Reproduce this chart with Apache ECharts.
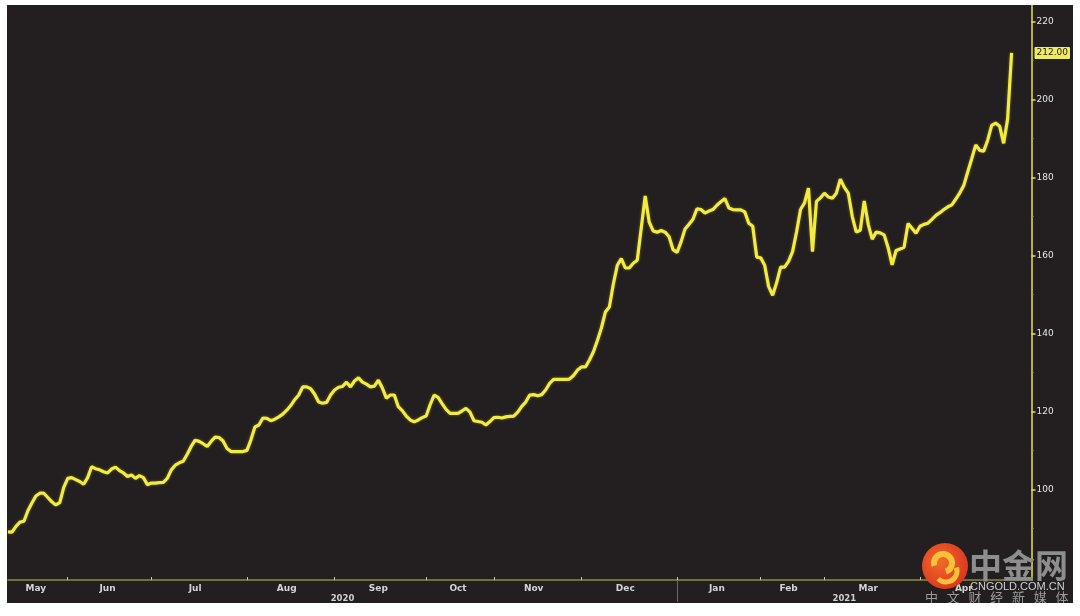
<!DOCTYPE html>
<html>
<head>
<meta charset="utf-8">
<script src="https://cdn.jsdelivr.net/npm/echarts@6/dist/echarts.min.js"></script>
<style>
  html, body { margin: 0; padding: 0; background: #ffffff; }
  #chart { position: absolute; left: 7px; top: 5px; width: 1066px; height: 598px; background: #231f20; }
</style>
</head>
<body>
<div id="chart"></div>
<script>
// ---- data ----
const months = ['May','Jun','Jul','Aug','Sep','Oct','Nov','Dec','Jan','Feb','Mar','Apr'];
const monthYears = ['2020','2020','2020','2020','2020','2020','2020','2020','2021','2021','2021','2021'];
const monthCounts = [15,21,24,22,23,17,22,24,21,16,24,29];
const years = ['2020','2021'];
const yTickLabels = [100,120,140,160,180,200,220];
const yMinorTicks = [90,110,130,150,170,190,210];
const values = [
  89.1, 89.0, 90.5, 91.6, 91.8, 94.5, 96.5, 98.3, 99.0, 99.0,
  97.9, 96.8, 96.0, 96.6, 100.5, 102.8, 103.0, 102.5, 102.0, 101.3,
  103.0, 105.8, 105.3, 105.0, 104.5, 104.2, 105.2, 105.7, 104.8, 104.2,
  103.3, 103.7, 102.8, 103.5, 103.0, 101.2, 101.6, 101.6, 101.7, 101.8,
  102.8, 105.0, 106.2, 106.8, 107.2, 109.0, 111.0, 112.6, 112.3, 111.7,
  111.0, 112.3, 113.4, 113.3, 112.4, 110.5, 109.7, 109.7, 109.7, 109.7,
  110.0, 112.7, 116.0, 116.5, 118.3, 118.2, 117.6, 118.0, 118.6, 119.3,
  120.3, 121.5, 123.0, 124.2, 126.3, 126.3, 125.8, 124.4, 122.4, 122.1,
  122.3, 124.2, 125.5, 126.2, 126.4, 127.5, 126.3, 127.8, 128.6, 127.5,
  127.0, 126.3, 126.5, 128.0, 126.0, 123.4, 124.2, 124.2, 121.2, 120.2,
  118.8, 117.8, 117.3, 117.8, 118.4, 118.8, 121.7, 124.2, 123.6, 122.0,
  120.5, 119.5, 119.5, 119.5, 120.1, 120.8, 119.8, 117.6, 117.4, 117.2,
  116.5, 117.4, 118.4, 118.5, 118.3, 118.6, 118.7, 118.8, 119.8, 121.3,
  122.4, 124.2, 124.3, 124.0, 124.3, 125.5, 127.2, 128.2, 128.2, 128.2,
  128.2, 128.3, 129.2, 130.6, 131.4, 131.4, 133.2, 135.3, 138.2, 141.4,
  145.5, 146.8, 152.7, 157.5, 159.2, 156.8, 156.8, 158.0, 158.8, 167.0,
  175.3, 168.6, 166.3, 166.0, 166.4, 166.0, 164.8, 161.5, 160.8, 163.5,
  166.8, 168.0, 169.3, 172.0, 171.8, 170.9, 171.4, 171.8, 172.9, 173.8,
  174.6, 172.2, 171.8, 171.7, 171.7, 171.2, 168.3, 167.5, 159.6, 159.4,
  157.5, 152.0, 149.8, 153.0, 157.0, 157.0, 158.5, 161.0, 166.0, 171.8,
  173.5, 177.3, 161.0, 173.9, 174.8, 176.0, 175.0, 174.7, 176.0, 179.6,
  177.5, 176.0, 170.0, 166.0, 166.5, 174.0, 168.0, 164.2, 166.0, 165.8,
  165.3, 162.0, 157.6, 161.3, 161.7, 162.1, 168.2, 167.0, 165.7, 167.5,
  168.0, 168.3, 169.3, 170.3, 171.0, 171.8, 172.5, 173.0, 174.5, 176.1,
  178.0, 181.5, 184.9, 188.4, 187.0, 186.8, 189.6, 193.4, 194.0, 193.2,
  188.8, 195.0, 212.0
];

// ---- derived structures ----
const categories = [];
const monthStarts = [];
const monthLabelIdx = new Map();
const lastData = values.length - 1;
let k = 0;
months.forEach((m, mi) => {
  monthStarts.push(k);
  const start = k, end = Math.min(k + monthCounts[mi] - 1, lastData);
  monthLabelIdx.set(Math.floor((start + end) / 2), m);
  for (let j = 0; j < monthCounts[mi]; j++) {
    categories.push(m + ' ' + monthYears[mi] + ' #' + (j + 1));
    k++;
  }
});
const tickSet = new Set(monthStarts.filter(i => i > 0));
const yearStart = categories.findIndex(c => c.indexOf(years[1]) >= 0);
const yearLabelIdx = new Map();
yearLabelIdx.set(Math.ceil((0 + yearStart - 1) / 2), years[0]);
yearLabelIdx.set(Math.floor((yearStart + lastData) / 2), years[1]);

const yMin = 76.73, yMax = 224.29;
const lastValue = values[lastData];

const chart = echarts.init(document.getElementById('chart'), null, { renderer: 'canvas' });
const font = 'DejaVu Sans';

chart.setOption({
  animation: false,
  backgroundColor: '#231f20',
  grid: { left: 1, right: 36, top: 0, bottom: 23, containLabel: false },
  xAxis: [
    {
      type: 'category', data: categories, boundaryGap: false, position: 'bottom',
      axisLine: { show: true, lineStyle: { color: '#8f8c3c', width: 1.5 } },
      axisTick: { show: true, inside: true, length: 3, interval: (i) => tickSet.has(i),
        lineStyle: { color: '#c8c8b0', width: 1 } },
      axisLabel: { show: true, interval: (i) => monthLabelIdx.has(i),
        formatter: (v, i) => monthLabelIdx.get(i) || '',
        color: '#d4d4d4', fontSize: 9, fontWeight: 'bold', fontFamily: font, margin: 4 },
      splitLine: { show: false }
    },
    {
      type: 'category', data: categories, boundaryGap: false, position: 'bottom',
      axisLine: { show: false },
      axisTick: { show: true, length: 22, interval: (i) => i === yearStart,
        lineStyle: { color: '#6a6a6a', width: 1 } },
      axisLabel: { show: true, interval: (i) => yearLabelIdx.has(i),
        formatter: (v, i) => yearLabelIdx.get(i) || '',
        color: '#d0d0d0', fontSize: 8.5, fontWeight: 'bold', fontFamily: font, margin: 14 },
      splitLine: { show: false }
    }
  ],
  yAxis: [
    {
      type: 'value', position: 'right', min: yMin, max: yMax, scale: true,
      axisLine: { show: true, lineStyle: { color: '#e9e54c', width: 1.5 } },
      axisTick: { show: true, length: 4, customValues: yTickLabels, lineStyle: { color: '#e9e54c', width: 1.5 } },
      axisLabel: { show: true, customValues: yTickLabels, color: '#e6e6e6', fontSize: 9, fontFamily: font, margin: 5 },
      splitLine: { show: false }
    },
    {
      type: 'value', position: 'right', min: yMin, max: yMax, scale: true,
      axisLine: { show: false },
      axisTick: { show: true, length: 2, customValues: yMinorTicks, lineStyle: { color: '#a8a640', width: 1 } },
      axisLabel: { show: false },
      splitLine: { show: false }
    },
    {
      type: 'value', position: 'right', min: yMin, max: yMax, scale: true,
      axisLine: { show: false },
      axisTick: { show: false },
      axisLabel: { show: true, customValues: [lastValue], formatter: (v) => Number(v).toFixed(2),
        color: '#1e1e1e', backgroundColor: '#efec60', padding: [2, 2, 1, 2], borderRadius: 1,
        fontSize: 9, fontFamily: font, margin: 3 },
      splitLine: { show: false }
    }
  ],
  series: [{
    type: 'line', xAxisIndex: 0, yAxisIndex: 0, data: values,
    showSymbol: false, symbol: 'none', smooth: false,
    lineStyle: { color: '#f3ec3e', width: 3.2, shadowColor: 'rgba(243,236,62,0.35)', shadowBlur: 3 },
    z: 5
  }],
  graphic: [
    { type: 'circle', shape: { cx: 938, cy: 561, r: 23 },
      style: { fill: new echarts.graphic.RadialGradient(0.4, 0.4, 0.7, [
        { offset: 0, color: '#f26a2a' }, { offset: 1, color: '#d8321e' }]) }, z: 100 },
    { type: 'arc', shape: { cx: 936, cy: 558, r: 9, startAngle: Math.PI * 0.9, endAngle: Math.PI * 2.4 },
      style: { stroke: '#f7c23a', lineWidth: 6, fill: null }, z: 101 },
    { type: 'arc', shape: { cx: 939, cy: 566, r: 11, startAngle: -Math.PI * 0.1, endAngle: Math.PI * 0.75 },
      style: { stroke: '#f7c23a', lineWidth: 5, fill: null }, z: 101 },
    { type: 'text', x: 962, y: 560, style: { text: '中金网', fill: '#8e8e8e', font: 'bold 33px "Noto Sans CJK SC"',
      textVerticalAlign: 'middle', textAlign: 'left' }, z: 100 },
    { type: 'text', x: 963, y: 582, style: { text: 'CNGOLD.COM.CN', fill: '#d0d0d0', font: '11px "Liberation Sans"',
      textVerticalAlign: 'middle', textAlign: 'left' }, z: 100 },
    { type: 'text', x: 918, y: 592, style: { text: '中   文   财   经   新   媒   体', fill: '#9a9a9a', font: '13px "Noto Sans CJK SC"',
      textVerticalAlign: 'middle', textAlign: 'left' }, z: 100 }
  ]
});
</script>
</body>
</html>
